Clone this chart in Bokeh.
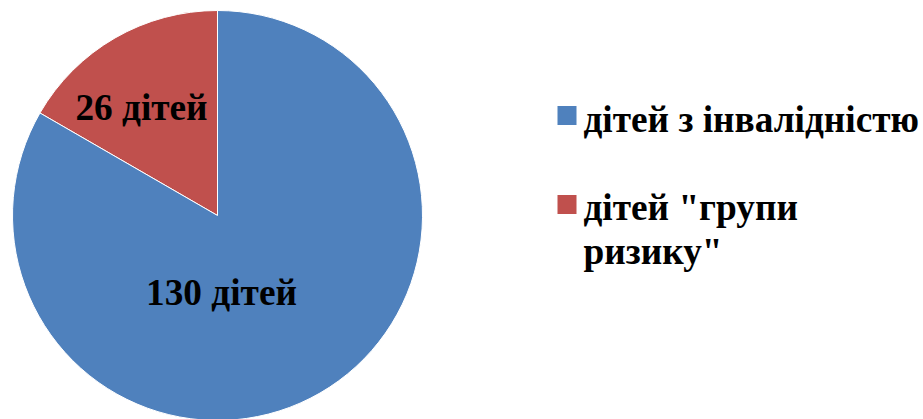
import math
from bokeh.plotting import figure
from bokeh.models import Range1d, ColumnDataSource
from bokeh.core.properties import value
from bokeh.embed import file_html
from bokeh.resources import INLINE

# Data
categories = ["дітей з інвалідністю", "дітей \"групи ризику\""]
counts = [130, 26]
colors = ["#4F81BD", "#C0504D"]
slice_labels = ["130 дітей", "26 дітей"]
legend_lines = [["дітей з інвалідністю"], ["дітей \"групи", "ризику\""]]

W, H = 923, 419
FONT = value("Liberation Serif")
p = figure(width=W, height=H, output_backend="svg", toolbar_location=None,
           x_range=Range1d(0, W), y_range=Range1d(0, H), min_border=0)
p.axis.visible = False
p.grid.visible = False
p.outline_line_color = None
p.background_fill_color = "white"
p.border_fill_color = "white"

cx, cy, R = 217, H - 215, 205
total = sum(counts)
order = [1, 0]
start = math.pi / 2
starts, ends, cols = [], [], []
for i in order:
    ang = 2 * math.pi * counts[i] / total
    starts.append(start)
    ends.append(start + ang)
    cols.append(colors[i])
    start += ang
src = ColumnDataSource(dict(x=[cx] * 2, y=[cy] * 2, s=starts, e=ends, c=cols))
p.wedge(x="x", y="y", radius=R, start_angle="s", end_angle="e", fill_color="c",
        line_color="white", line_width=1, source=src)

# slice labels
lab_pos = {1: (141, H - 107), 0: (221, H - 292)}
lx = [lab_pos[i][0] for i in order]
ly = [lab_pos[i][1] for i in order]
lt = [slice_labels[i] for i in order]
p.text(x=lx, y=ly, text=lt, text_align="center", text_baseline="middle",
       text_font=FONT, text_font_style="bold",
       text_font_size="37.3px", text_color="black")

# legend
leg_x = 557
sq_y = [H - 115, H - 204]
p.rect(x=[leg_x + 9.5] * 2, y=sq_y, width=19, height=19, width_units="screen",
       height_units="screen", fill_color=colors, line_color=None)
tx, ty, tt = [], [], []
mid_y = [119, 207]
for k, lines in enumerate(legend_lines):
    for j, line in enumerate(lines):
        tx.append(583)
        ty.append(H - (mid_y[k] + 44 * j))
        tt.append(line)
p.text(x=tx, y=ty, text=tt, text_align="left", text_baseline="middle",
       text_font=FONT, text_font_style="bold",
       text_font_size="37.3px", text_color="black")

open("out.html", "w").write(file_html(p, INLINE))
